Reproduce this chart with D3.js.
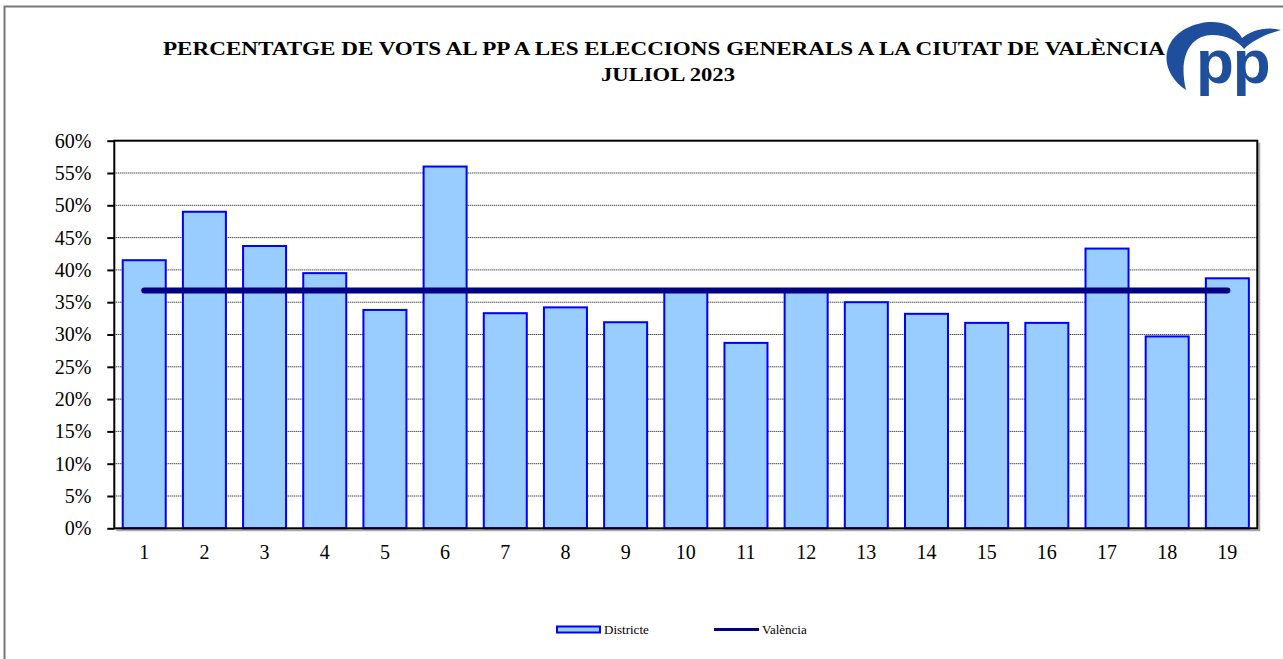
<!DOCTYPE html>
<html lang="ca">
<head>
    <meta charset="UTF-8">
    <title>Percentatge de vots al PP</title>
    <script src="https://d3js.org/d3.v7.min.js"></script>
    <style>
        body { margin: 0; background: #fff; }
        svg { display: block; font-family: "Liberation Serif", "Times New Roman", serif; }
        .title { font-family: "Liberation Serif", "Times New Roman", serif; font-size: 18.5px; font-weight: bold; fill: #000; }
        .tick-label { font-family: "Liberation Serif", "Times New Roman", serif; font-size: 20px; fill: #000; }
        .legend-label { font-family: "Liberation Serif", "Times New Roman", serif; font-size: 13px; fill: #000; }
    </style>
</head>
<body>
    <div id="chart"></div>
    <script>
        // Data
        const districts = ["1", "2", "3", "4", "5", "6", "7", "8", "9", "10",
                           "11", "12", "13", "14", "15", "16", "17", "18", "19"];
        const districtPct = [41.5, 49.0, 43.7, 39.5, 33.8, 56.0, 33.3, 34.2, 31.9, 36.9,
                             28.7, 36.8, 35.0, 33.2, 31.8, 31.8, 43.3, 29.7, 38.7];
        const valenciaPct = 36.8;
        const yTicks = [0, 5, 10, 15, 20, 25, 30, 35, 40, 45, 50, 55, 60];
        const titleLines = ["PERCENTATGE DE VOTS AL PP A LES ELECCIONS GENERALS A LA CIUTAT DE VALÈNCIA",
                            "JULIOL 2023"];
        const legendNames = ["Districte", "València"];

        const width = 1283, height = 659;
        const plot = { left: 114.3, right: 1257.3, top: 140.7, bottom: 528.3 };

        const svg = d3.select("#chart").append("svg")
            .attr("width", width)
            .attr("height", height);

        // outer frame
        svg.append("rect")
            .attr("x", 4.5).attr("y", 6.5)
            .attr("width", 1320).attr("height", 700)
            .attr("fill", "none")
            .attr("stroke", "#777")
            .attr("stroke-width", 2);

        // scales
        const x = d3.scaleBand()
            .domain(districts)
            .range([plot.left, plot.right])
            .paddingInner(0.285)
            .paddingOuter(0.14);

        const y = d3.scaleLinear()
            .domain([0, 60])
            .range([plot.bottom, plot.top]);

        // gridlines
        svg.append("g")
            .selectAll("line")
            .data(yTicks.filter(d => d > 0 && d < 60))
            .join("line")
            .attr("x1", plot.left).attr("x2", plot.right)
            .attr("y1", d => y(d)).attr("y2", d => y(d))
            .attr("stroke", "#000")
            .attr("stroke-width", 1)
            .attr("stroke-dasharray", "1,1");

        // plot shadow
        svg.append("path")
            .attr("d", `M${plot.right + 2},${plot.top + 2} V${plot.bottom + 2} H${plot.left + 2}`)
            .attr("fill", "none")
            .attr("stroke", "#aaa")
            .attr("stroke-width", 2);

        // bars
        svg.append("g")
            .selectAll("rect")
            .data(districtPct)
            .join("rect")
            .attr("x", (d, i) => x(districts[i]))
            .attr("y", d => y(d))
            .attr("width", x.bandwidth())
            .attr("height", d => y(0) - y(d))
            .attr("fill", "#99CCFF")
            .attr("stroke", "#0000FF")
            .attr("stroke-width", 2);

        // city average line
        const cx = d => x(d) + x.bandwidth() / 2;
        svg.append("line")
            .attr("x1", cx(districts[0]))
            .attr("x2", cx(districts[districts.length - 1]))
            .attr("y1", y(valenciaPct)).attr("y2", y(valenciaPct))
            .attr("stroke", "#000080")
            .attr("stroke-width", 6)
            .attr("stroke-linecap", "round");

        // plot border
        svg.append("rect")
            .attr("x", plot.left).attr("y", plot.top)
            .attr("width", plot.right - plot.left)
            .attr("height", plot.bottom - plot.top)
            .attr("fill", "none")
            .attr("stroke", "#000")
            .attr("stroke-width", 2);

        // y axis
        const yAxis = svg.append("g")
            .attr("transform", `translate(${plot.left},0)`)
            .call(d3.axisLeft(y).tickValues(yTicks).tickSize(7).tickPadding(16)
                .tickFormat(d => d + "%"));
        yAxis.attr("font-family", null).attr("font-size", null);
        yAxis.select(".domain").remove();
        yAxis.selectAll("line").attr("stroke", "#000").attr("stroke-width", 2);
        yAxis.selectAll("text").attr("class", "tick-label");

        // x axis
        const xAxis = svg.append("g")
            .attr("transform", `translate(0,${plot.bottom})`)
            .call(d3.axisBottom(x).tickSize(0).tickPadding(17));
        xAxis.attr("font-family", null).attr("font-size", null);
        xAxis.select(".domain").remove();
        xAxis.selectAll("text").attr("class", "tick-label");

        // title
        const titleWidths = [1002, 134];
        svg.append("g")
            .selectAll("text")
            .data(titleLines)
            .join("text")
            .attr("class", "title")
            .attr("x", (d, i) => i === 0 ? 163 : 601)
            .attr("y", (d, i) => 55 + i * 26)
            .attr("textLength", (d, i) => titleWidths[i])
            .attr("lengthAdjust", "spacingAndGlyphs")
            .text(d => d);

        // PP logo
        const logo = svg.append("g");
        logo.append("path")
            .attr("d", "M1186,90 C1168,78 1161,58 1171,42 C1181,25 1210,17 1228,25 C1236,29 1240,34 1242,38 " +
                       "C1252,30 1266,26 1281,30 C1266,34 1252,41 1244,49 C1238,41 1226,35 1212,35 " +
                       "C1194,35 1177,52 1186,90 Z")
            .attr("fill", "#1f4f9c");
        logo.append("text")
            .attr("x", 1196).attr("y", 83)
            .attr("font-family", "'Liberation Sans', Arial, sans-serif")
            .attr("font-weight", "bold")
            .attr("font-size", 62)
            .attr("letter-spacing", -1)
            .attr("fill", "#1f4f9c")
            .text("pp");

        // legend
        const legend = svg.append("g");
        legend.append("rect")
            .attr("x", 557).attr("y", 626.5)
            .attr("width", 43).attr("height", 6)
            .attr("fill", "#99CCFF")
            .attr("stroke", "#0000FF")
            .attr("stroke-width", 2);
        legend.append("line")
            .attr("x1", 714).attr("x2", 759)
            .attr("y1", 629.5).attr("y2", 629.5)
            .attr("stroke", "#000080")
            .attr("stroke-width", 3);
        legend.selectAll("text")
            .data(legendNames)
            .join("text")
            .attr("class", "legend-label")
            .attr("x", (d, i) => i === 0 ? 604 : 762)
            .attr("y", 634)
            .text(d => d);
    </script>
</body>
</html>
